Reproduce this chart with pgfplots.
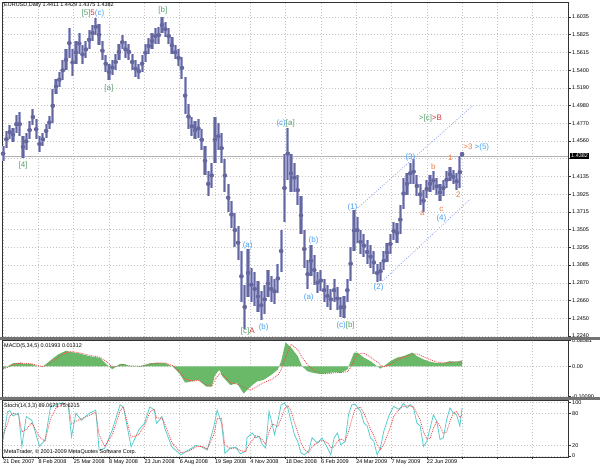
\documentclass[border=0pt]{standalone}
\usepackage{pgfplots}
\pgfplotsset{compat=1.18}
\usepackage{pgfplotstable}
\usepackage{fontspec}
\setmainfont{Liberation Sans}
\definecolor{barc}{RGB}{100,102,158}
\definecolor{barl}{RGB}{158,160,204}
\definecolor{wblue}{RGB}{70,160,245}
\definecolor{wgreen}{RGB}{90,160,110}
\definecolor{wred}{RGB}{205,55,55}
\definecolor{worange}{RGB}{240,125,70}
\definecolor{chan}{RGB}{130,150,245}
\definecolor{macdg}{RGB}{105,185,105}
\definecolor{stochc}{RGB}{90,205,205}
\definecolor{sigred}{RGB}{240,80,80}
\definecolor{gridc}{RGB}{195,195,195}
\newcommand{\sz}{\fontsize{5.5}{6.5}\selectfont}
\newcommand{\wz}{\fontsize{8}{9}\selectfont}

\pgfplotstableread{
i lo hi
0 1.432 1.450
3 1.448 1.468
6 1.458 1.475
9 1.455 1.472
12 1.465 1.487
15 1.462 1.490
18 1.436 1.462
21 1.445 1.466
24 1.458 1.480
27 1.475 1.494
30 1.458 1.482
33 1.443 1.462
36 1.450 1.466
39 1.460 1.476
42 1.470 1.486
45 1.478 1.518
48 1.512 1.530
51 1.520 1.538
54 1.528 1.552
57 1.540 1.565
60 1.555 1.590
63 1.533 1.566
66 1.548 1.575
69 1.560 1.584
72 1.548 1.570
75 1.555 1.575
78 1.565 1.588
81 1.575 1.594
84 1.582 1.602
87 1.570 1.595
90 1.552 1.575
93 1.538 1.558
96 1.528 1.548
99 1.535 1.552
102 1.540 1.560
105 1.552 1.572
108 1.565 1.582
111 1.555 1.575
114 1.552 1.572
117 1.540 1.560
120 1.532 1.552
123 1.530 1.548
126 1.538 1.558
129 1.550 1.572
132 1.560 1.578
135 1.565 1.585
138 1.572 1.590
141 1.572 1.592
144 1.585 1.603
147 1.580 1.598
150 1.572 1.590
153 1.560 1.580
156 1.553 1.570
159 1.545 1.565
162 1.530 1.556
165 1.488 1.532
168 1.470 1.500
171 1.462 1.485
174 1.458 1.480
177 1.460 1.482
180 1.445 1.470
183 1.415 1.450
186 1.390 1.420
189 1.400 1.430
192 1.430 1.485
195 1.445 1.478
198 1.430 1.465
201 1.395 1.435
204 1.372 1.405
207 1.352 1.385
210 1.330 1.370
213 1.315 1.355
216 1.265 1.325
219 1.232 1.285
222 1.270 1.328
225 1.265 1.305
228 1.260 1.300
231 1.252 1.290
234 1.243 1.278
237 1.250 1.285
240 1.270 1.303
243 1.265 1.295
246 1.262 1.292
249 1.275 1.310
252 1.300 1.350
255 1.360 1.440
258 1.410 1.472
261 1.395 1.440
264 1.395 1.430
267 1.380 1.415
270 1.345 1.390
273 1.305 1.350
276 1.280 1.315
279 1.295 1.332
282 1.285 1.320
285 1.275 1.300
288 1.278 1.302
291 1.265 1.292
294 1.258 1.285
297 1.255 1.280
300 1.265 1.292
303 1.255 1.282
306 1.246 1.270
309 1.245 1.272
312 1.265 1.292
315 1.290 1.330
318 1.325 1.374
321 1.335 1.365
324 1.322 1.350
327 1.318 1.345
330 1.310 1.338
333 1.305 1.332
336 1.298 1.325
339 1.288 1.310
342 1.290 1.312
345 1.302 1.325
348 1.312 1.335
351 1.322 1.345
354 1.338 1.360
357 1.335 1.358
360 1.345 1.380
363 1.375 1.412
366 1.392 1.418
369 1.405 1.430
372 1.405 1.434
375 1.390 1.415
378 1.380 1.405
381 1.372 1.398
384 1.388 1.410
387 1.395 1.415
390 1.398 1.420
393 1.392 1.412
396 1.385 1.405
399 1.390 1.410
402 1.400 1.420
405 1.408 1.425
408 1.405 1.422
411 1.398 1.418
414 1.400 1.438
416 1.4375 1.4429
}\pricetab

\pgfplotstableread{
i m s
0 -0.010 -0.008
4 0.000 -0.004
9 0.010 0.005
16 0.012 0.011
19 0.008 0.010
26 0.007 0.008
31 0.000 0.003
36 -0.002 -0.001
43 0.020 0.012
50 0.040 0.030
57 0.052 0.046
61 0.048 0.049
68 0.044 0.046
78 0.034 0.037
88 0.028 0.030
94 0.005 0.015
99 -0.010 -0.004
106 0.008 0.003
109 0.008 0.006
116 -0.002 0.001
126 0.002 0.000
133 0.010 0.007
140 0.012 0.011
147 0.010 0.011
154 -0.002 0.002
160 -0.025 -0.018
165 -0.055 -0.042
172 -0.050 -0.050
177 -0.045 -0.047
184 -0.068 -0.062
189 -0.068 -0.067
192 -0.030 -0.045
196 -0.012 -0.025
199 -0.035 -0.028
206 -0.063 -0.055
212 -0.057 -0.060
218 -0.0915 -0.070
224 -0.069 -0.080
230 -0.051 -0.068
236 -0.046 -0.055
243 -0.029 -0.045
249 -0.011 -0.030
252 0.017 -0.012
256 0.080 0.030
261 0.063 0.074
267 0.034 0.055
271 0.000 0.030
276 -0.017 0.005
282 -0.023 -0.015
288 -0.026 -0.024
294 -0.023 -0.025
300 -0.020 -0.022
306 -0.022 -0.021
312 -0.011 -0.018
315 0.017 -0.005
318 0.046 0.020
321 0.046 0.040
327 0.029 0.044
333 0.017 0.030
339 0.000 0.015
342 -0.008 0.004
345 0.000 -0.002
351 0.017 0.006
357 0.029 0.020
363 0.034 0.030
371 0.046 0.040
375 0.034 0.042
381 0.023 0.032
387 0.015 0.022
393 0.011 0.014
399 0.011 0.011
405 0.017 0.013
411 0.015 0.015
416 0.020 0.013
}\macdtab

\pgfplotstableread{
i k d
0 30 40
4 83 60
6 85 75
9 75 80
14 80 78
17 18 45
21 74 50
26 67 62
33 18 35
38 30 28
43 92 70
48 96 90
54 100 98
59 95 97
62 36 60
66 80 65
71 67 70
78 80 76
84 86 82
87 11 40
92 14 18
99 49 40
106 96 85
109 92 92
116 17 35
123 49 40
128 61 56
133 92 82
137 86 88
139 61 72
144 74 70
147 49 58
153 17 25
161 2 6
168 11 9
175 20 17
180 17 18
185 11 13
191 55 40
194 86 70
198 61 70
201 5 20
206 15 14
211 16 15
215 4 10
220 9 8
221 34 15
226 43 30
229 34 38
232 37 36
235 21 30
238 15 22
241 84 45
244 59 60
246 40 58
249 65 55
252 96 70
255 99 88
258 90 95
261 65 84
264 40 63
267 27 45
270 6 25
273 2 12
277 9 6
280 34 17
285 24 26
289 34 30
294 15 25
297 2 15
300 34 17
303 43 27
306 21 32
310 27 28
313 77 45
316 96 68
319 97 88
324 84 92
327 62 80
330 56 66
333 34 50
336 27 38
339 2 22
342 15 12
345 46 22
350 77 48
354 93 74
359 87 88
363 99 93
366 90 94
369 96 94
372 90 92
375 62 80
378 56 68
381 18 45
384 27 32
387 52 33
390 77 52
393 65 65
396 31 55
399 34 42
402 68 45
405 90 65
408 81 80
411 77 83
414 56 72
416 90 76
}\stochtab

\pgfplotsset{
  mtbase/.style={
    scale only axis, width=566bp,
    xmin=-1, xmax=512,
    at={(0,0)}, anchor=south west,
    axis line style={black!80, line width=0.6bp},
    xtick={0,32,...,480},
    xmajorgrids, ymajorgrids,
    major grid style={gridc, dash pattern=on 1bp off 2bp, line width=0.5bp},
    ytick pos=right, yticklabel pos=right,
    tick align=outside, major tick length=2.5bp,
    tick style={black!80, line width=0.5bp},
    y tick label style={font=\sz, inner sep=1.5bp},
  }
}

\begin{document}
\begin{tikzpicture}[x=1bp,y=1bp]
\fill[white] (0,0) rectangle (600,469);

% ---------------- price panel
\begin{scope}[shift={(2bp,132bp)}]
\begin{axis}[mtbase, height=335bp,
  ymin=1.2228, ymax=1.6214,
  ytick={1.2240,1.2450,1.2660,1.2870,1.3085,1.3295,1.3505,1.3715,1.3925,1.4135,1.4350,1.4560,1.4770,1.4980,1.5190,1.5400,1.5615,1.5825,1.6035},
  yticklabels={1.2240,1.2450,1.2660,1.2870,1.3085,1.3295,1.3505,1.3715,1.3925,1.4135,,1.4560,1.4770,1.4980,1.5190,1.5400,1.5615,1.5825,1.6035},
  xticklabels={}, xtick style={draw=none}]
\addplot[black!30, line width=0.6bp] coordinates {(-1,1.4382) (512,1.4382)};
\addplot[barl, only marks, mark=none,
  error bars/.cd, y dir=both, y explicit, error mark=none,
  error bar style={barl, line width=3.2bp, solid}]
  table[x=i, y expr=(\thisrow{hi}+\thisrow{lo})/2, y error expr=(\thisrow{hi}-\thisrow{lo})/2] {\pricetab};
\addplot[barc, only marks, mark=none,
  error bars/.cd, y dir=both, y explicit, error mark=none,
  error bar style={barc, line width=1.2bp, solid}]
  table[x=i, y expr=(\thisrow{hi}+\thisrow{lo})/2, y error expr=(\thisrow{hi}-\thisrow{lo})/2] {\pricetab};
\addplot[chan, dash pattern=on 1bp off 1.5bp, line width=0.6bp] coordinates {(321.3,1.3763) (425.3,1.4977)};
\addplot[chan, dash pattern=on 1bp off 1.5bp, line width=0.6bp] coordinates {(343.9,1.2894) (423.5,1.3870)};
\coordinate (pbox) at (axis cs:512,1.4382);
% wave labels
\begin{scope}[every node/.style={font=\wz, inner sep=0pt}]
\node[text=wgreen] at (axis cs:18.1,1.4274) {[4]};
\node at (axis cs:81.4,1.6083) {{\color{wgreen}[5]}{\color{wred}5}{\color{wblue}(c)}};
\node[text=wgreen] at (axis cs:95.9,1.5190) {[a]};
\node[text=wgreen] at (axis cs:144.8,1.6118) {[b]};
\node[text=wblue] at (axis cs:221.7,1.3323) {(a)};
\node at (axis cs:221.7,1.2299) {{\color{wgreen}[c]}{\color{wred}A}};
\node[text=wblue] at (axis cs:236.2,1.2347) {(b)};
\node at (axis cs:256.1,1.4774) {{\color{wblue}(c)}{\color{wgreen}[a]}};
\node[text=wblue] at (axis cs:277,1.2704) {(a)};
\node[text=wblue] at (axis cs:281.4,1.3382) {(b)};
\node at (axis cs:310.4,1.2371) {{\color{wblue}(c)}{\color{wgreen}[b]}};
\node[text=wblue] at (axis cs:316.7,1.3775) {(1)};
\node[text=wblue] at (axis cs:340.3,1.2823) {(2)};
\node[text=wblue] at (axis cs:369.2,1.4369) {(3)};
\node at (axis cs:387.3,1.4833) {{\color{wgreen}>[c]}{\color{wred}>B}};
\node[text=worange] at (axis cs:380,1.3703) {a};
\node[text=worange] at (axis cs:390,1.4250) {b};
\node[text=worange] at (axis cs:397.3,1.3745) {c};
\node[text=wblue] at (axis cs:397.3,1.3644) {(4)};
\node[text=worange] at (axis cs:405.4,1.4358) {1};
\node[text=worange] at (axis cs:412.7,1.3917) {2};
\node[anchor=west] at (axis cs:417,1.4488) {{\color{worange}>3} {\color{wblue}>(5)}};
\end{scope}
\end{axis}
\end{scope}
\node[fill=black, text=white, font=\sz, inner sep=1bp, anchor=west] at ([xshift=2bp]pbox) {1.4382};

% ---------------- MACD panel (values plotted in thousandths)
\begin{scope}[shift={(2bp,72bp)}]
\begin{axis}[mtbase, height=57bp,
  ymin=-103, ymax=88,
  ytick={-100.9,0,85.81}, yticklabels={-0.10090,0.00,0.08581},
  xticklabels={}, xtick style={draw=none}]
\addplot[fill=macdg, draw=none] table[x=i, y expr=1000*\thisrow{m}]{\macdtab} \closedcycle;
\addplot[sigred, dash pattern=on 1bp off 1bp, line width=0.8bp] table[x=i, y expr=1000*\thisrow{s}]{\macdtab};
\end{axis}
\end{scope}

% ---------------- Stochastic panel
\begin{scope}[shift={(2bp,12bp)}]
\begin{axis}[mtbase, height=57bp,
  ymin=-2, ymax=105, ytick={0,20,80,100}, yticklabels={0,20,80,100},
  xtick pos=bottom,
  xticklabels={21 Dec 2007,8 Feb 2008,25 Mar 2008,8 May 2008,23 Jun 2008,6 Aug 2008,19 Sep 2008,4 Nov 2008,18 Dec 2008,6 Feb 2009,24 Mar 2009,7 May 2009,22 Jun 2009,,,},
  x tick label style={font=\sz, anchor=north west, inner sep=0.5bp, xshift=-0.5bp, yshift=0.5bp}]
\addplot[stochc, line width=0.8bp] table[x=i,y=k]{\stochtab};
\addplot[sigred, dash pattern=on 1bp off 1bp, line width=0.8bp] table[x=i,y=d]{\stochtab};
\end{axis}
\end{scope}

% separators
\fill[black!55] (0,129.3) rectangle (600,131.8);
\fill[black!55] (0,69.3) rectangle (600,71.8);

% titles
\node[font=\sz, anchor=west, inner sep=0pt] at (4,464) {EURUSD,Daily 1.4411 1.4429 1.4375 1.4382};
\node[font=\sz, anchor=west, inner sep=0pt] at (4,123) {MACD(5,34,5) 0.01993 0.01312};
\node[font=\sz, anchor=west, inner sep=0pt] at (4,63) {Stoch(14,3,3) 89.0673 75.6215};
\node[font=\sz, anchor=west, inner sep=0pt] at (4,17) {MetaTrader, \textcopyright\ 2001-2009 MetaQuotes Software Corp.};

\pgfresetboundingbox
\path[use as bounding box] (0,0) rectangle (600,469);
\end{tikzpicture}
\end{document}
